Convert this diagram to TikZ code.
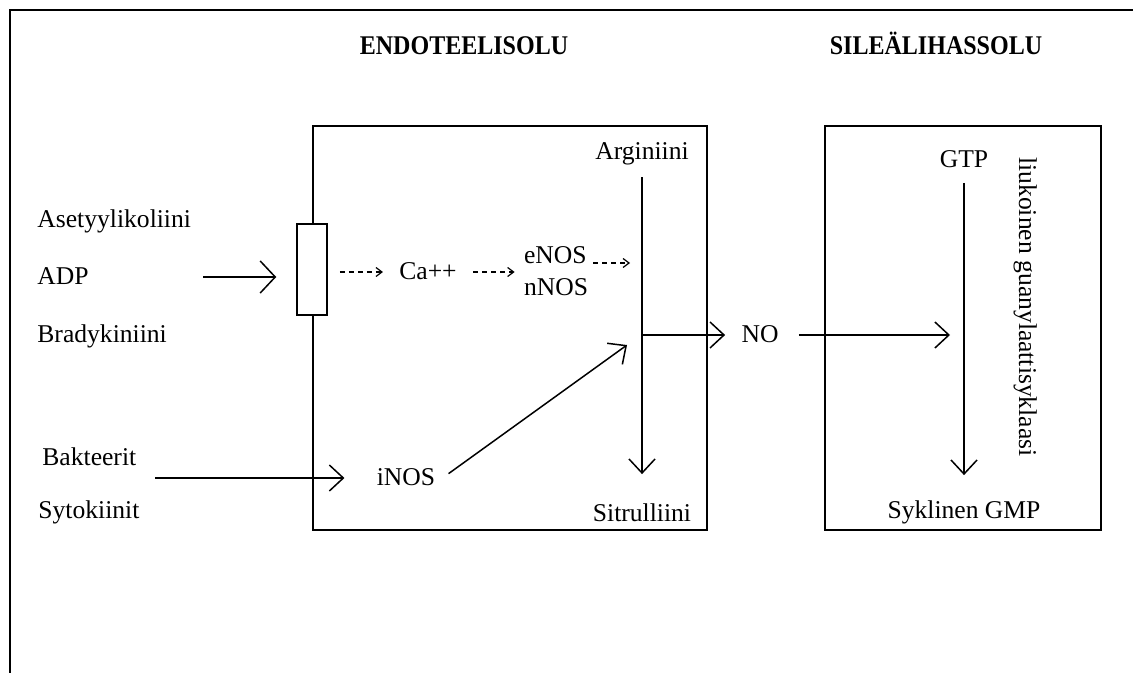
\documentclass[tikz,border=0pt]{standalone}
\usepackage{fontspec}
\setmainfont{Liberation Serif}
\newfontfamily\otsikkofont[FakeStretch=0.89]{Liberation Serif}
\usepackage{tikz}
\usetikzlibrary{arrows.meta, positioning}

\begin{document}
\begin{tikzpicture}[
    x=0.5pt, y=-0.5pt,
    every node/.style={inner sep=0pt, font=\fontsize{12.8}{16}\selectfont, text height=0.85em, text depth=0.05em},
    otsikko/.style={font=\otsikkofont\bfseries\fontsize{13.5}{16}\selectfont},
    solu/.style={draw, line width=1pt},
    pil/.style={line width=0.75pt, -{Straight Barb[length=7pt,width=13pt]}},
    katko/.style={line width=0.6pt, dash pattern=on 2.5pt off 2pt, -{Straight Barb[length=3pt,width=4.5pt]}}
]

    \useasboundingbox (0,0) rectangle (1133,673);
    \draw[line width=1pt] (10,673) -- (10,10) -- (1133,10);

    \node[otsikko] (endootsikko) at (464,47) {ENDOTEELISOLU};
    \node[otsikko] (lihasotsikko) at (936,47) {SILEÄLIHASSOLU};

    \node[solu, minimum width=197pt, minimum height=202pt] (endo) at (510,328) {};
    \node[solu, minimum width=138pt, minimum height=202pt] (lihas) at (963,328) {};

    \node[anchor=west] (asetyyli) at (37,220) {Asetyylikoliini};
    \node[anchor=west] (adp) at (37,277) {ADP};
    \node[anchor=west] (brady) at (37,335) {Bradykiniini};
    \node[anchor=west] (bakt) at (42,457) {Bakteerit};
    \node[anchor=west] (syto) at (38,510) {Sytokiinit};

    \node[draw, line width=0.75pt, fill=white, minimum width=15pt, minimum height=45.5pt] (resept) at (312,269.5) {};
    \node (ca) at (428,272) {Ca++};
    \node[align=left, text height={}, text depth={}] (enos) at (556,271) {eNOS\\nNOS};
    \node (arg) at (642,152) {Arginiini};
    \node (sit) at (642,513) {Sitrulliini};
    \node (inos) at (406,477) {iNOS};
    \node (no) at (760,335) {NO};
    \node (gtp) at (964,160) {GTP};
    \node (cgmp) at (964,510) {Syklinen GMP};
    \node[rotate=-90] (sgc) at (1027,307) {liukoinen guanylaattisyklaasi};

    \coordinate (adpviiva) at (203,277);
    \coordinate (bsviiva) at (155,478);
    \coordinate (haara) at (642,335);
    \coordinate (esto) at (627,345);

    \draw[pil, -{Straight Barb[length=7.5pt,width=16pt]}, shorten >=10pt] (adpviiva) -- (adpviiva -| resept.west);
    \draw[katko, shorten <=6pt, shorten >=8pt] (resept.east |- ca.west) -- (ca.west);
    \draw[katko, shorten <=8pt, shorten >=4.5pt] (ca.east) -- (ca.east -| enos.west);
    \draw[katko, shorten <=2.5pt, shorten >=6pt] ([yshift=4pt]enos.east) -- ([yshift=4pt]enos.east -| haara);
    \draw[pil, shorten <=8pt, shorten >=14.75pt] (arg.south) -- (sit.north);
    \draw[pil, shorten >=8pt] (haara) -- (no.west);
    \draw[pil, shorten <=10pt, shorten >=7pt] (no.east) -- (no.east -| gtp.south);
    \draw[pil, shorten <=6.75pt, shorten >=12.75pt] (gtp.south) -- (cgmp.north);
    \draw[pil, shorten >=16pt] (bsviiva) -- (bsviiva -| inos.west);
    \draw[pil, shorten <=8pt] ([yshift=-3pt]inos.east) -- (esto);

\end{tikzpicture}
\end{document}
